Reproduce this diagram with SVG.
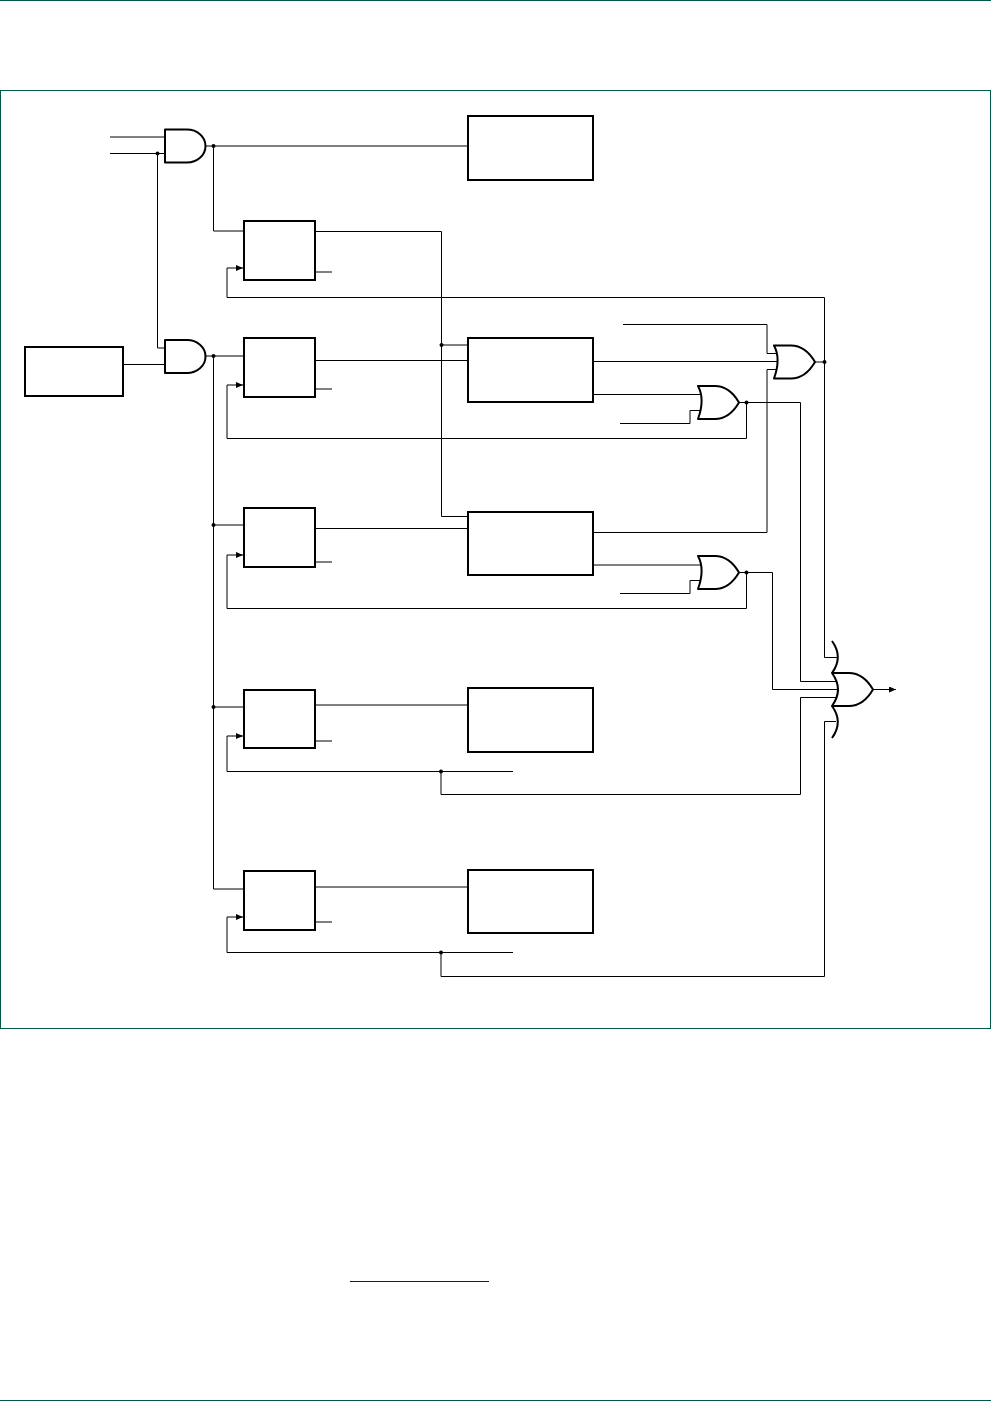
<svg xmlns="http://www.w3.org/2000/svg" width="991" height="1401" viewBox="0 0 991 1401">
<style>
.g{fill:#fff;stroke:#000;stroke-width:2;stroke-linejoin:round}
.b{fill:#fff;stroke:#000;stroke-width:2}
.w{fill:none;stroke:#000;stroke-width:1}
.f{fill:none;stroke:#00594c;stroke-width:1}
.u{fill:none;stroke:#0000ff;stroke-width:1}
.d{fill:#000;stroke:none}
</style>
<defs>
<marker id="ah" markerUnits="userSpaceOnUse" markerWidth="7" markerHeight="6" refX="7" refY="3" orient="auto"><path d="M0 0L7 3L0 6Z" fill="#000"/></marker>
<path id="and" d="M165 0H187C197 0 205.500 7 205.500 16.500C205.500 26 197 33 187 33H165Z"/>
<path id="or" d="M0 0H17C28 0 36 8 41 16.500C36 25 28 33 17 33H0C4 22 6 11 0 0Z"/>
</defs>
<g id="page"><path class="f" d="M0 0.500H991M0 1400.500H991"/><path class="u" d="M350 1281.500H489"/><rect class="f" x="0.500" y="90.500" width="990" height="938"/></g>
<g id="connectors">
<path class="w" d="M110 137H165M110 153.500H165M157.500 153.500V348H165M123 364.500H165"/>
<path class="w" d="M205 146H468M213.500 146V231H244M205 356H244M213.500 356V889H244M213.500 525H244M213.500 707H244"/>
<path class="w" d="M316 231.500H441.500V516.500H468M441.500 345H468M316 272H332M316 360.500H468M316 389H332M316 528.500H468M316 562H332M316 705H468M316 741H332M316 887H468M316 922H332"/>
<path class="w" marker-end="url(#ah)" d="M824.500 657.500V297.500H227V268H243"/>
<path class="w" marker-end="url(#ah)" d="M746.500 402V438.500H227V385H243"/>
<path class="w" marker-end="url(#ah)" d="M746.500 572V608.500H227V555H243"/>
<path class="w" marker-end="url(#ah)" d="M513 771.500H227V736H243"/>
<path class="w" marker-end="url(#ah)" d="M513 952.500H227V917H243"/>
<path class="w" d="M441 771.500V794.500H800.500V697.500H836M441 952.500V976.500H824.500V721.500H836M824.500 657.500H837"/>
<path class="w" d="M623 324.500H767V353.500H776M594 361.500H779M594 532.500H767V369.500H777M815 362H824.500"/>
<path class="w" d="M594 394.500H701M620 423.500H690V410.500H701M739 402.500H800.500V681.500H837"/>
<path class="w" d="M594 565H701M620 593.500H690V580.500H701M739 572.500H772.500V689.500H838"/>
<path class="w" marker-end="url(#ah)" d="M873 689.500H896"/>
<g class="d"><circle cx="157.500" cy="153.500" r="2"/><circle cx="213.500" cy="146" r="2"/><circle cx="213.500" cy="356" r="2"/><circle cx="213.500" cy="525" r="2"/><circle cx="213.500" cy="707" r="2"/><circle cx="441.500" cy="345" r="2"/><circle cx="746.500" cy="402.500" r="2"/><circle cx="746.500" cy="572.500" r="2"/><circle cx="824.500" cy="362" r="2"/><circle cx="441" cy="771.500" r="2"/><circle cx="441" cy="952.500" r="2"/></g>
</g>
<g id="src"><rect class="b" x="25" y="347" width="98" height="49"/></g>
<g id="and1"><use href="#and" class="g" y="129.500"/></g>
<g id="and2"><use href="#and" class="g" y="340"/></g>
<g id="ff1"><rect class="b" x="244" y="221" width="71" height="59"/></g>
<g id="ff2"><rect class="b" x="244" y="338" width="71" height="59"/></g>
<g id="ff3"><rect class="b" x="244" y="508" width="71" height="59"/></g>
<g id="ff4"><rect class="b" x="244" y="690" width="71" height="58"/></g>
<g id="ff5"><rect class="b" x="244" y="871" width="71" height="59"/></g>
<g id="box1"><rect class="b" x="468" y="116" width="125" height="64"/></g>
<g id="box2"><rect class="b" x="468" y="338" width="125" height="64"/></g>
<g id="box3"><rect class="b" x="468" y="512" width="125" height="63"/></g>
<g id="box4"><rect class="b" x="468" y="688" width="125" height="64"/></g>
<g id="box5"><rect class="b" x="468" y="870" width="125" height="63"/></g>
<g id="or1"><use href="#or" class="g" x="774" y="345.500"/></g>
<g id="or2"><use href="#or" class="g" x="698" y="386"/></g>
<g id="or3"><use href="#or" class="g" x="698" y="556"/></g>
<g id="or4"><path class="g" d="M832 673H849C860 673 868 681 873 689.500C868 698 860 706 849 706H832C840 695 840 684 832 673Z"/><path class="g" style="fill:none" d="M832 641C840 652 840 662 832 673M832 706C840 717 840 727 832 738"/></g>
</svg>
